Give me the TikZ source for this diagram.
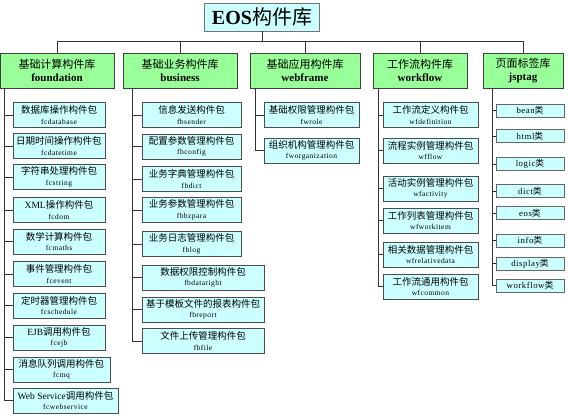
\documentclass[tikz,border=0pt]{standalone}
\usepackage{fontspec}
\setmainfont{Liberation Serif}
\newfontfamily\cjk{Noto Sans CJK SC}
\newfontfamily\enwide[LetterSpace=6]{Liberation Serif}
\newcommand{\en}{\enwide\fontsize{7.5}{8}\selectfont}
\definecolor{libgreen}{RGB}{153,255,153}
\definecolor{pkgcyan}{RGB}{204,255,255}
\begin{document}
\begin{tikzpicture}[
    x=1pt, y=-1pt,
    title/.style={rectangle, draw=black!55, fill=pkgcyan, minimum width=115pt, minimum height=28pt, inner sep=0pt, font=\fontsize{20}{22}\selectfont},
    library/.style={rectangle, draw=black!75, line width=0.9pt, fill=libgreen, minimum height=35pt, inner sep=0pt, align=center, font=\fontsize{11}{13}\selectfont},
    package/.style={rectangle, draw=black!70, line width=0.7pt, fill=pkgcyan, minimum width=95pt, minimum height=25pt, inner sep=0pt, align=center, font=\fontsize{9.5}{10.5}\selectfont},
    tag/.style={rectangle, draw=black!60, line width=0.7pt, fill=pkgcyan, minimum width=68pt, minimum height=13pt, inner sep=0pt, font=\enwide\fontsize{8.8}{9}\selectfont},
    link/.style={draw=black!80, line width=0.8pt}
]
\useasboundingbox (0,0) rectangle (568,418);

% Root
\node[title] (title) at (262,17) {\textbf{EOS}{\cjk 构件库}};
\coordinate (bus) at (0,41);

% Libraries
\node[library, minimum width=114pt] (foundation) at (57,70.5) {{\cjk 基础计算构件库}\\\textbf{foundation}};
\node[library, minimum width=114pt] (business) at (180,70.5) {{\cjk 基础业务构件库}\\\textbf{business}};
\node[library, minimum width=110pt] (webframe) at (305,70.5) {{\cjk 基础应用构件库}\\\textbf{webframe}};
\node[library, minimum width=94pt] (workflow) at (420,70.5) {{\cjk 工作流构件库}\\\textbf{workflow}};
\node[library, minimum width=80pt] (jsptag) at (523,70.5) {{\cjk 页面标签库}\\\textbf{jsptag}};

% Trunk roots
\coordinate (fcroot) at (4,88);
\coordinate (fbroot) at (132,88);
\coordinate (fwroot) at (255,88);
\coordinate (wfroot) at (378,88);
\coordinate (tagroot) at (492,88);

% foundation packages
\node[package, minimum width=92pt] (fcdatabase) at (59,115) {{\cjk 数据库操作构件包}\\{\en fcdatabase}};
\node[package, minimum width=92pt] (fcdatetime) at (59,146) {{\cjk 日期时间操作构件包}\\{\en fcdatetime}};
\node[package, minimum width=92pt] (fcstring) at (59,177) {{\cjk 字符串处理构件包}\\{\en fcstring}};
\node[package, minimum width=92pt] (fcdom) at (59,210) {XML{\cjk 操作构件包}\\{\en fcdom}};
\node[package, minimum width=92pt] (fcmaths) at (59,241.5) {{\cjk 数学计算构件包}\\{\en fcmaths}};
\node[package, minimum width=92pt] (fcevent) at (59,274) {{\cjk 事件管理构件包}\\{\en fcevent}};
\node[package, minimum width=92pt] (fcschedule) at (59,305.5) {{\cjk 定时器管理构件包}\\{\en fcschedule}};
\node[package, minimum width=92pt] (fcejb) at (59,337.5) {EJB{\cjk 调用构件包}\\{\en fcejb}};
\node[package, minimum width=97pt] (fcmq) at (61.5,369.5) {{\cjk 消息队列调用构件包}\\{\en fcmq}};
\node[package, minimum width=105pt] (fcwebservice) at (65.5,400.5) {Web Service{\cjk 调用构件包}\\{\en fcwebservice}};

% business packages
\node[package, minimum width=99pt] (fbsender) at (191.5,115) {{\cjk 信息发送构件包}\\{\en fbsender}};
\node[package, minimum width=99pt] (fbconfig) at (191.5,146.5) {{\cjk 配置参数管理构件包}\\{\en fbconfig}};
\node[package, minimum width=99pt] (fbdict) at (191.5,179) {{\cjk 业务字典管理构件包}\\{\en fbdict}};
\node[package, minimum width=99pt] (fbbzpara) at (191.5,210) {{\cjk 业务参数管理构件包}\\{\en fbbzpara}};
\node[package, minimum width=99pt] (fblog) at (191.5,244) {{\cjk 业务日志管理构件包}\\{\en fblog}};
\node[package, minimum width=122pt] (fbdataright) at (203,277.5) {{\cjk 数据权限控制构件包}\\{\en fbdataright}};
\node[package, minimum width=122pt] (fbreport) at (203,309.5) {{\cjk 基于模板文件的报表构件包}\\{\en fbreport}};
\node[package, minimum width=122pt] (fbfile) at (203,341) {{\cjk 文件上传管理构件包}\\{\en fbfile}};

% webframe packages
\node[package] (fwrole) at (311.5,115) {{\cjk 基础权限管理构件包}\\{\en fwrole}};
\node[package] (fworganization) at (311.5,150.5) {{\cjk 组织机构管理构件包}\\{\en fworganization}};

% workflow packages
\node[package] (wfdefinition) at (430.5,115) {{\cjk 工作流定义构件包}\\{\en wfdefinition}};
\node[package] (wfflow) at (430.5,150.5) {{\cjk 流程实例管理构件包}\\{\en wfflow}};
\node[package] (wfactivity) at (430.5,188.5) {{\cjk 活动实例管理构件包}\\{\en wfactivity}};
\node[package] (wfworkitem) at (430.5,220.5) {{\cjk 工作列表管理构件包}\\{\en wfworkitem}};
\node[package] (wfrelativedata) at (430.5,254.5) {{\cjk 相关数据管理构件包}\\{\en wfrelativedata}};
\node[package] (wfcommon) at (430.5,286.5) {{\cjk 工作流通用构件包}\\{\en wfcommon}};

% jsptag classes
\node[tag] (bean) at (530,110.5) {bean{\cjk 类}};
\node[tag] (html) at (530,136) {html{\cjk 类}};
\node[tag] (logic) at (530,164) {logic{\cjk 类}};
\node[tag] (dict) at (530,191) {dict{\cjk 类}};
\node[tag] (eos) at (530,213) {eos{\cjk 类}};
\node[tag] (info) at (530,240.5) {info{\cjk 类}};
\node[tag] (display) at (530,263.5) {display{\cjk 类}};
\node[tag] (workflowtag) at (530,285.5) {workflow{\cjk 类}};

% Root to libraries
\draw[link] (title) -- (title |- bus);
\draw[link] (foundation.north |- bus) -- (jsptag.north |- bus);
\draw[link] (foundation) -- (foundation.north |- bus);
\draw[link] (business) -- (business.north |- bus);
\draw[link] (webframe) -- (webframe.north |- bus);
\draw[link] (workflow) -- (workflow.north |- bus);
\draw[link] (jsptag) -- (jsptag.north |- bus);

% Libraries to packages
\draw[link] (fcroot) |- (fcdatabase);
\draw[link] (fcroot) |- (fcdatetime);
\draw[link] (fcroot) |- (fcstring);
\draw[link] (fcroot) |- (fcdom);
\draw[link] (fcroot) |- (fcmaths);
\draw[link] (fcroot) |- (fcevent);
\draw[link] (fcroot) |- (fcschedule);
\draw[link] (fcroot) |- (fcejb);
\draw[link] (fcroot) |- (fcmq);
\draw[link] (fcroot) |- (fcwebservice);

\draw[link] (fbroot) |- (fbsender);
\draw[link] (fbroot) |- (fbconfig);
\draw[link] (fbroot) |- (fbdict);
\draw[link] (fbroot) |- (fbbzpara);
\draw[link] (fbroot) |- (fblog);
\draw[link] (fbroot) |- (fbdataright);
\draw[link] (fbroot) |- (fbreport);
\draw[link] (fbroot) |- (fbfile);

\draw[link] (fwroot) |- (fwrole);
\draw[link] (fwroot) |- (fworganization);

\draw[link] (wfroot) |- (wfdefinition);
\draw[link] (wfroot) |- (wfflow);
\draw[link] (wfroot) |- (wfactivity);
\draw[link] (wfroot) |- (wfworkitem);
\draw[link] (wfroot) |- (wfrelativedata);
\draw[link] (wfroot) |- (wfcommon);

\draw[link] (tagroot) |- (bean);
\draw[link] (tagroot) |- (html);
\draw[link] (tagroot) |- (logic);
\draw[link] (tagroot) |- (dict);
\draw[link] (tagroot) |- (eos);
\draw[link] (tagroot) |- (info);
\draw[link] (tagroot) |- (display);
\draw[link] (tagroot) |- (workflowtag);

\end{tikzpicture}
\end{document}
